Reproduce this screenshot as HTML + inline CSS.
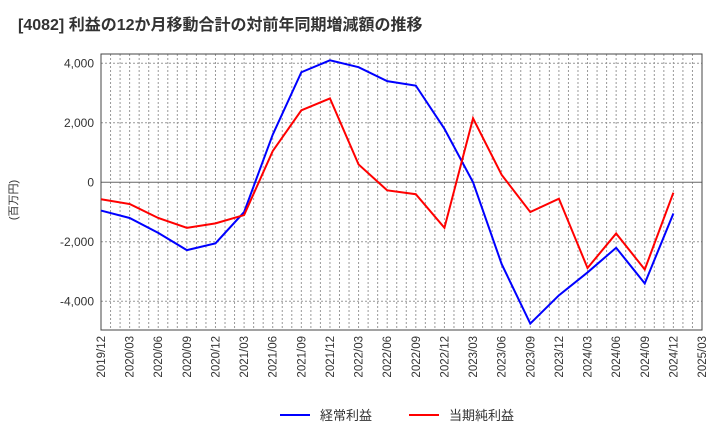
<!DOCTYPE html>
<html><head><meta charset="utf-8"><style>
body{margin:0;background:#fff;font-family:"Liberation Sans","Noto Sans CJK JP",sans-serif;}
</style></head><body>
<svg id="c" width="720" height="440" xmlns="http://www.w3.org/2000/svg">
<text x="18" y="30" font-size="16" font-weight="bold" fill="#333">[4082]  利益の12か月移動合計の対前年同期増減額の推移</text>
<text transform="translate(17,200) rotate(-90)" font-size="11" fill="#333" text-anchor="middle">(百万円)</text>
<g id="grid"></g><g id="axes"></g><g id="series"></g>
<g>
<line x1="280" y1="415" x2="310" y2="415" stroke="#0000ff" stroke-width="2"/>
<text x="320" y="420" font-size="13" fill="#333">経常利益</text>
<line x1="409" y1="415" x2="439" y2="415" stroke="#ff0000" stroke-width="2"/>
<text x="449" y="420" font-size="13" fill="#333">当期純利益</text>
</g>
</svg>
<script>
const categories=["2019/12","2020/03","2020/06","2020/09","2020/12","2021/03","2021/06","2021/09","2021/12","2022/03","2022/06","2022/09","2022/12","2023/03","2023/06","2023/09","2023/12","2024/03","2024/06","2024/09","2024/12","2025/03"];
const ordinary=[-950,-1200,-1700,-2280,-2050,-1000,1600,3700,4100,3870,3400,3250,1800,0,-2750,-4750,-3800,-3030,-2200,-3400,-1050];
const net=[-570,-730,-1200,-1530,-1380,-1100,1050,2420,2820,600,-270,-400,-1530,2150,250,-1000,-550,-2880,-1720,-2930,-350];
const yTicks=[-4000,-2000,0,2000,4000];
const yTickLabels=["-4,000","-2,000","0","2,000","4,000"];
const L=101,R=702,T=54,B=330;
const x=i=>L+(R-L)*i/(categories.length-1);
const y=v=>182.3-v*29.75/1000;
const ns="http://www.w3.org/2000/svg";
function mk(tag,attrs,parent){const e=document.createElementNS(ns,tag);for(const k in attrs)e.setAttribute(k,attrs[k]);parent.appendChild(e);return e;}
const grid=document.getElementById('grid'),axes=document.getElementById('axes'),series=document.getElementById('series');
for(let m=0;m<=(categories.length-1)*3;m++){
 const xi=x(m/3);
 const l=mk('line',{x1:xi,x2:xi,y1:T,y2:B,stroke:'#999','stroke-dasharray':'2,2','stroke-width':1},grid);
 
}
for(let i=0;i<categories.length;i++){
 const t=mk('text',{transform:`translate(${x(i)+4},${B+6}) rotate(-90)`,'font-size':11.5,fill:'#333','text-anchor':'end'},axes);
 t.textContent=categories[i];
 
}
yTicks.forEach((v,i)=>{
 const l=mk('line',{x1:L,x2:R,y1:y(v),y2:y(v),stroke:v===0?'#666':'#999','stroke-dasharray':v===0?'':'2,2','stroke-width':1},grid);
 
 const t=mk('text',{x:L-7,y:y(v)+4,'font-size':12,fill:'#333','text-anchor':'end'},axes);
 t.textContent=yTickLabels[i];
 
});
const fr=mk('rect',{x:L,y:T,width:R-L,height:B-T,fill:'none',stroke:'#444','stroke-width':1},axes);

function line(d,c,n){const p=mk('polyline',{points:d.map((v,i)=>x(i)+','+y(v)).join(' '),fill:'none',stroke:c,'stroke-width':2},series);
 }
line(ordinary,'#0000ff','ordinary-profit-line');
line(net,'#ff0000','net-profit-line');
</script>
</body></html>
